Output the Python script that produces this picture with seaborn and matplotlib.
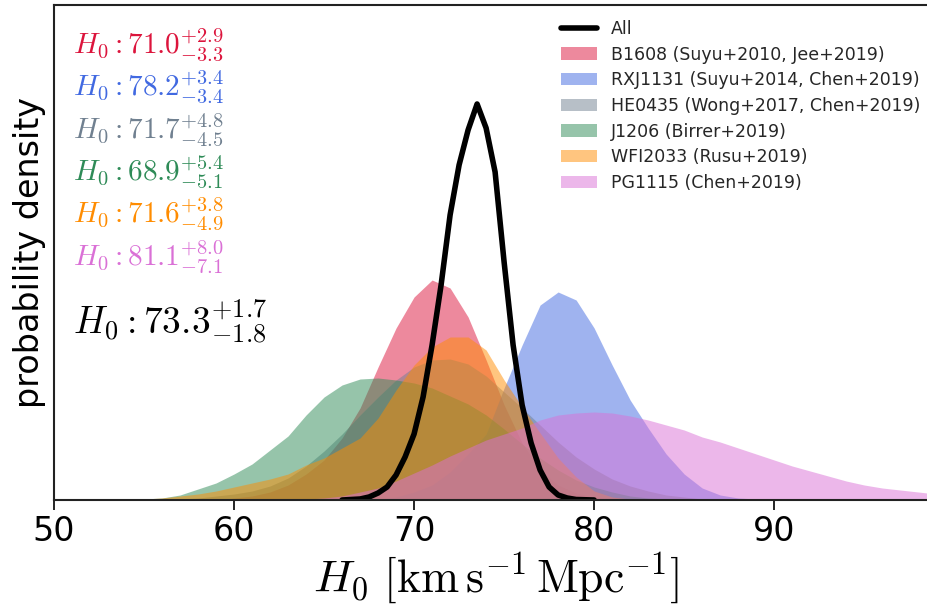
import numpy as np
import pandas as pd
import matplotlib
matplotlib.use("Agg")
import matplotlib.pyplot as plt
import seaborn as sns

# H0 posteriors (arbitrary density units)
all_h0 = [66, 66.5, 67, 67.5, 68, 68.5, 69, 69.5, 70, 70.5, 71, 71.5, 72, 72.5, 73, 73.5,
          74, 74.5, 75, 75.5, 76, 76.5, 77, 77.5, 78, 78.5, 79, 80]
all_dens = [0, 0.5, 1, 3, 7, 13, 25, 43, 66, 103, 155, 215, 285, 335, 370, 396,
            372, 328, 238, 155, 95, 57, 30, 13, 5, 2, 0.5, 0]

b1608_h0 = list(range(59, 84))
b1608_dens = [0, 2, 4, 8, 15, 26, 40, 62, 92, 133, 172, 203, 220, 212, 183, 140,
              95, 57, 30, 15, 7, 3, 1, 0.5, 0]

rxj1131_h0 = list(range(67, 92))
rxj1131_dens = [0, 1, 3, 8, 15, 28, 46, 66, 112, 155, 195, 208, 200, 172, 135, 100,
                72, 46, 26, 12, 5, 2, 1, 0.5, 0]

he0435_h0 = list(range(56, 89))
he0435_dens = [0, 1, 2, 4, 6, 9, 14, 22, 34, 49, 66, 85, 103, 120, 133, 140, 141,
               136, 124, 108, 92, 75, 58, 43, 31, 21, 14, 9, 5, 3, 1, 0.5, 0]

j1206_h0 = list(range(54, 86))
j1206_dens = [0, 1, 2, 5, 11, 17, 26, 36, 50, 64, 85, 103, 115, 121, 122, 120, 117,
              112, 104, 96, 85, 71, 56, 42, 30, 20, 13, 8, 4, 2, 1, 0]

wfi2033_h0 = list(range(54, 84))
wfi2033_dens = [0, 1, 2, 4, 6, 9, 13, 17, 21, 26, 35, 42, 52, 62, 82, 110, 135,
                153, 163, 163, 150, 120, 93, 67, 42, 23, 9, 3, 1, 0]

pg1115_h0 = list(range(62, 101))
pg1115_dens = [0, 0.5, 1, 2, 4, 8, 12, 19, 27, 35, 44, 52, 60, 66, 72, 80, 85, 87,
               88, 87, 84, 80, 75, 70, 63, 58, 52, 46, 40, 34, 29, 24, 19, 15, 12,
               10, 8, 6, 4]

labels = ["B1608 (Suyu+2010, Jee+2019)", "RXJ1131 (Suyu+2014, Chen+2019)",
          "HE0435 (Wong+2017, Chen+2019)", "J1206 (Birrer+2019)",
          "WFI2033 (Rusu+2019)", "PG1115 (Chen+2019)"]
colors = ["crimson", "royalblue", "slategray", "seagreen", "darkorange", "orchid"]
medians = ["71.0", "78.2", "71.7", "68.9", "71.6", "81.1"]
err_up = ["2.9", "3.4", "4.8", "5.4", "3.8", "8.0"]
err_lo = ["3.3", "3.4", "4.5", "5.1", "4.9", "7.1"]

series = [(b1608_h0, b1608_dens), (rxj1131_h0, rxj1131_dens), (he0435_h0, he0435_dens),
          (j1206_h0, j1206_dens), (wfi2033_h0, wfi2033_dens), (pg1115_h0, pg1115_dens)]

sns.set_style("ticks")
plt.rcParams["font.family"] = ["DejaVu Sans"]
plt.rcParams["mathtext.fontset"] = "cm"

fig = plt.figure(figsize=(9.28, 6.10), dpi=100)
ax = fig.add_axes([54 / 928, 110 / 610, 884 / 928, 495 / 610])

for (h0, dens), lab, col in zip(series, labels, colors):
    ax.fill_between(h0, dens, color=col, alpha=0.5, lw=0, label=lab)

df_all = pd.DataFrame({"H0": all_h0, "density": all_dens})
sns.lineplot(data=df_all, x="H0", y="density", color="black", lw=4, ax=ax, label="All")

ax.set_xlim(50, 99.1)
ax.set_ylim(0, 495)
ax.set_yticks([])
ax.set_xticks([50, 60, 70, 80, 90])
ax.tick_params(axis="x", labelsize=24, length=7, width=1.2, color="black",
               labelcolor="black")
for s in ax.spines.values():
    s.set_linewidth(1.5)
    s.set_color("#222222")
ax.set_xlabel(r"$H_0\ [\mathrm{km\,s^{-1}\,Mpc^{-1}}]$", fontsize=33, labelpad=2,
              color="black")
ax.set_ylabel("probability density", fontsize=24, labelpad=6, color="black")

# summary values in the upper left
ys = [45, 87, 130, 172, 214, 257]
for y, col, m, up, lo in zip(ys, colors, medians, err_up, err_lo):
    fig.text(73 / 928, 1 - y / 610, r"$H_0:%s^{+%s}_{-%s}$" % (m, up, lo),
             color=col, fontsize=21, va="center", ha="left")
fig.text(73 / 928, 1 - 322 / 610, r"$H_0:73.3^{+1.7}_{-1.8}$",
         color="black", fontsize=27, va="center", ha="left")

h, l = ax.get_legend_handles_labels()
order = [len(l) - 1] + list(range(len(l) - 1))
ax.legend([h[i] for i in order], [l[i] for i in order], loc="upper left",
          bbox_to_anchor=(561 / 928, 1 - 20 / 610), bbox_transform=fig.transFigure,
          frameon=False, fontsize=12.5, borderpad=0, borderaxespad=0,
          labelspacing=0.44, handlelength=2.1, handletextpad=0.8)

fig.savefig("out.png", dpi=100)
